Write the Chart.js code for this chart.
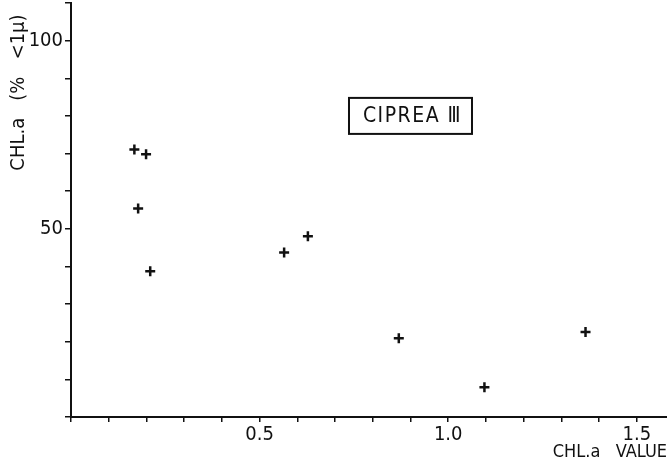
<!DOCTYPE html>
<html>
<head>
<meta charset="utf-8">
<script src="https://cdn.jsdelivr.net/npm/chart.js@4.4.1/dist/chart.umd.min.js"></script>
<style>
    html, body { margin: 0; padding: 0; background: #fff; }
    #wrap { width: 667px; height: 466px; position: relative; }
</style>
</head>
<body>
<div id="wrap"><canvas id="chart"></canvas></div>
<script>
// --- Data -----------------------------------------------------------------

const chlValue = [0.168, 0.199, 0.178, 0.21, 0.565, 0.628, 0.869, 1.096, 1.364];
const chlPctSmall = [71.1, 69.8, 55.4, 38.7, 43.7, 48.0, 20.9, 7.9, 22.6];

const xTickLabels = [0.5, 1.0, 1.5];
const yTickLabels = [50, 100];

const xTitle = 'CHL.a   VALUE';
const yTitle = 'CHL.a   (%   <1\u00b5)  ';
const boxLabel = 'CIPREA \u2162';
const boxAt = { x: 0.9, y: 80 };

// --- Style -----------------------------------------------------------------

const INK = '#111';
const FONT = '"DejaVu Sans Condensed", "Liberation Sans Narrow", "DejaVu Sans", sans-serif';

function isLabelled(list, v) {
    return list.some((t) => Math.abs(t - v) < 1e-6);
}

// Framed station name, anchored at a data position
const boxPlugin = {
    id: 'stationBox',
    afterDatasetsDraw(chart) {
        const { ctx, scales } = chart;
        const cx = scales.x.getPixelForValue(boxAt.x);
        const cy = scales.y.getPixelForValue(boxAt.y);
        const w = 123, h = 36;
        ctx.save();
        ctx.strokeStyle = INK;
        ctx.lineWidth = 2;
        ctx.strokeRect(cx - w / 2, cy - h / 2, w, h);
        ctx.fillStyle = INK;
        ctx.font = '21px ' + FONT;
        ctx.letterSpacing = '1.5px';
        ctx.textAlign = 'center';
        ctx.textBaseline = 'middle';
        ctx.fillText(boxLabel, cx + 2, cy + 1);
        ctx.restore();
    },
};

new Chart(document.getElementById('chart'), {
    type: 'scatter',
    data: {
        datasets: [
            {
                data: chlValue.map((x, i) => ({ x, y: chlPctSmall[i] })),
                pointStyle: 'cross',
                radius: 5,
                borderWidth: 2.5,
                borderColor: INK,
                backgroundColor: INK,
            },
        ],
    },
    options: {
        responsive: true,
        maintainAspectRatio: false,
        animation: false,
        layout: { autoPadding: false, padding: { top: 3, right: 0, left: 0, bottom: 0 } },
        plugins: {
            legend: { display: false },
            tooltip: { enabled: false },
        },
        scales: {
            x: {
                type: 'linear',
                min: 0,
                max: 1.58,
                afterFit: (s) => {
                    s.height = 49;
                    s.paddingLeft = 0;
                    s.paddingRight = 0;
                },
                border: { display: true, color: INK, width: 2 },
                grid: { display: true, drawOnChartArea: false, drawTicks: true, tickLength: 5, color: INK, lineWidth: 1.5 },
                ticks: {
                    stepSize: 0.1,
                    includeBounds: false,
                    autoSkip: false,
                    maxRotation: 0,
                    padding: 1,
                    color: INK,
                    font: { family: FONT, size: 20 },
                    callback: (v) => (isLabelled(xTickLabels, v) ? v.toFixed(1) : ''),
                },
                title: {
                    display: true,
                    text: xTitle,
                    align: 'end',
                    color: INK,
                    font: { family: FONT, size: 18 },
                    padding: { top: 0, bottom: 3 },
                },
            },
            y: {
                type: 'linear',
                min: 0,
                max: 110,
                afterFit: (s) => {
                    s.width = 71;
                    s.paddingTop = 0;
                    s.paddingBottom = 0;
                },
                border: { display: true, color: INK, width: 2 },
                grid: { display: true, drawOnChartArea: false, drawTicks: true, tickLength: 6, color: INK, lineWidth: 1.5 },
                ticks: {
                    stepSize: 10,
                    autoSkip: false,
                    padding: 2,
                    color: INK,
                    font: { family: FONT, size: 20 },
                    callback: (v) => (isLabelled(yTickLabels, v) ? String(v) : ''),
                },
                title: {
                    display: true,
                    text: yTitle,
                    align: 'end',
                    color: INK,
                    font: { family: FONT, size: 20 },
                    padding: { top: 7, bottom: 0 },
                },
            },
        },
    },
    plugins: [boxPlugin],
});
</script>
</body>
</html>
